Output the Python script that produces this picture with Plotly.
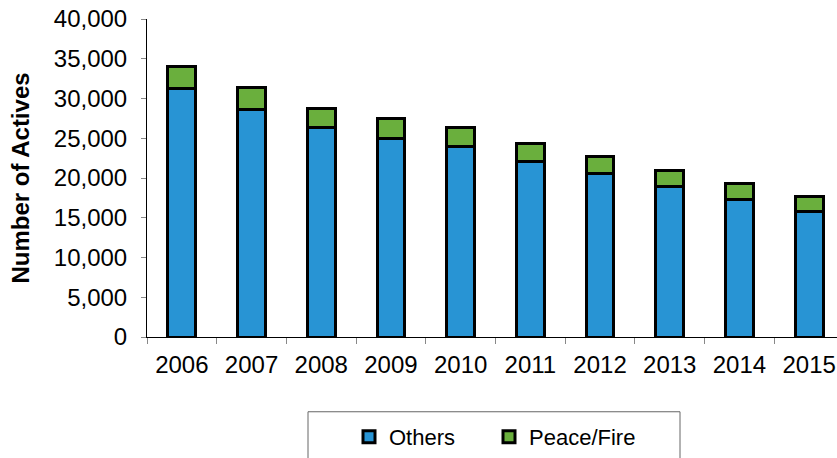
import plotly.graph_objects as go

years = ["2006", "2007", "2008", "2009", "2010", "2011", "2012", "2013", "2014", "2015"]
others = [31200, 28650, 26300, 25000, 24000, 22050, 20550, 18900, 17250, 15800]
peace_fire = [2800, 2750, 2500, 2500, 2400, 2300, 2150, 2050, 2050, 1850]

font_family = "Liberation Sans, Arial, sans-serif"
bar_line = dict(color="black", width=3)

# plot area in pixels, used to place the legend pieces
PL, PR, PT, PB = 147, 837, 19, 338


def px_x(px):
    return (px - PL) / (PR - PL)


def px_y(py):
    return (PB - py) / (PB - PT)


fig = go.Figure()
fig.add_trace(go.Bar(
    x=years, y=others, name="Others",
    marker=dict(color="#2894D4", line=bar_line),
    width=0.4, legend="legend",
))
fig.add_trace(go.Bar(
    x=years, y=peace_fire, name="Peace/Fire",
    marker=dict(color="#6AAF3D", line=bar_line),
    width=0.4, legend="legend2",
))

# legend frame (runs past the bottom edge of the page)
fig.add_shape(
    type="rect", xref="paper", yref="paper",
    x0=px_x(308), x1=px_x(680), y0=px_y(475), y1=px_y(413),
    line=dict(color="#666666", width=1), fillcolor="rgba(0,0,0,0)",
    layer="above",
)

legend_common = dict(
    orientation="h",
    yanchor="middle", y=px_y(438),
    xanchor="left",
    borderwidth=0, bgcolor="rgba(0,0,0,0)",
    font=dict(size=22),
    itemwidth=30,
)

fig.update_layout(
    barmode="stack",
    width=837, height=458,
    margin=dict(l=PL, r=837 - PR, t=PT, b=458 - PB),
    paper_bgcolor="white", plot_bgcolor="white",
    font=dict(family=font_family, size=24, color="black"),
    showlegend=True,
    legend=dict(x=px_x(349), **legend_common),
    legend2=dict(x=px_x(489), **legend_common),
    xaxis=dict(
        type="category",
        range=[-0.5, 9.4],
        showline=True, linecolor="black", linewidth=1,
        ticks="outside", tickson="boundaries", ticklen=6,
        tickcolor="#888888", tickwidth=1,
        showgrid=False,
        tickfont=dict(size=24),
        ticklabelstandoff=6,
    ),
    yaxis=dict(
        range=[0, 40000],
        tickvals=[0, 5000, 10000, 15000, 20000, 25000, 30000, 35000, 40000],
        tickformat=",d",
        showline=True, linecolor="black", linewidth=1,
        ticks="outside", ticklen=5, tickcolor="#888888", tickwidth=1,
        showgrid=False, zeroline=False,
        tickfont=dict(size=24),
        ticklabelstandoff=9,
        title=dict(text="<b>Number of Actives</b>", font=dict(size=24), standoff=17),
    ),
)

fig.write_html("out.html")
